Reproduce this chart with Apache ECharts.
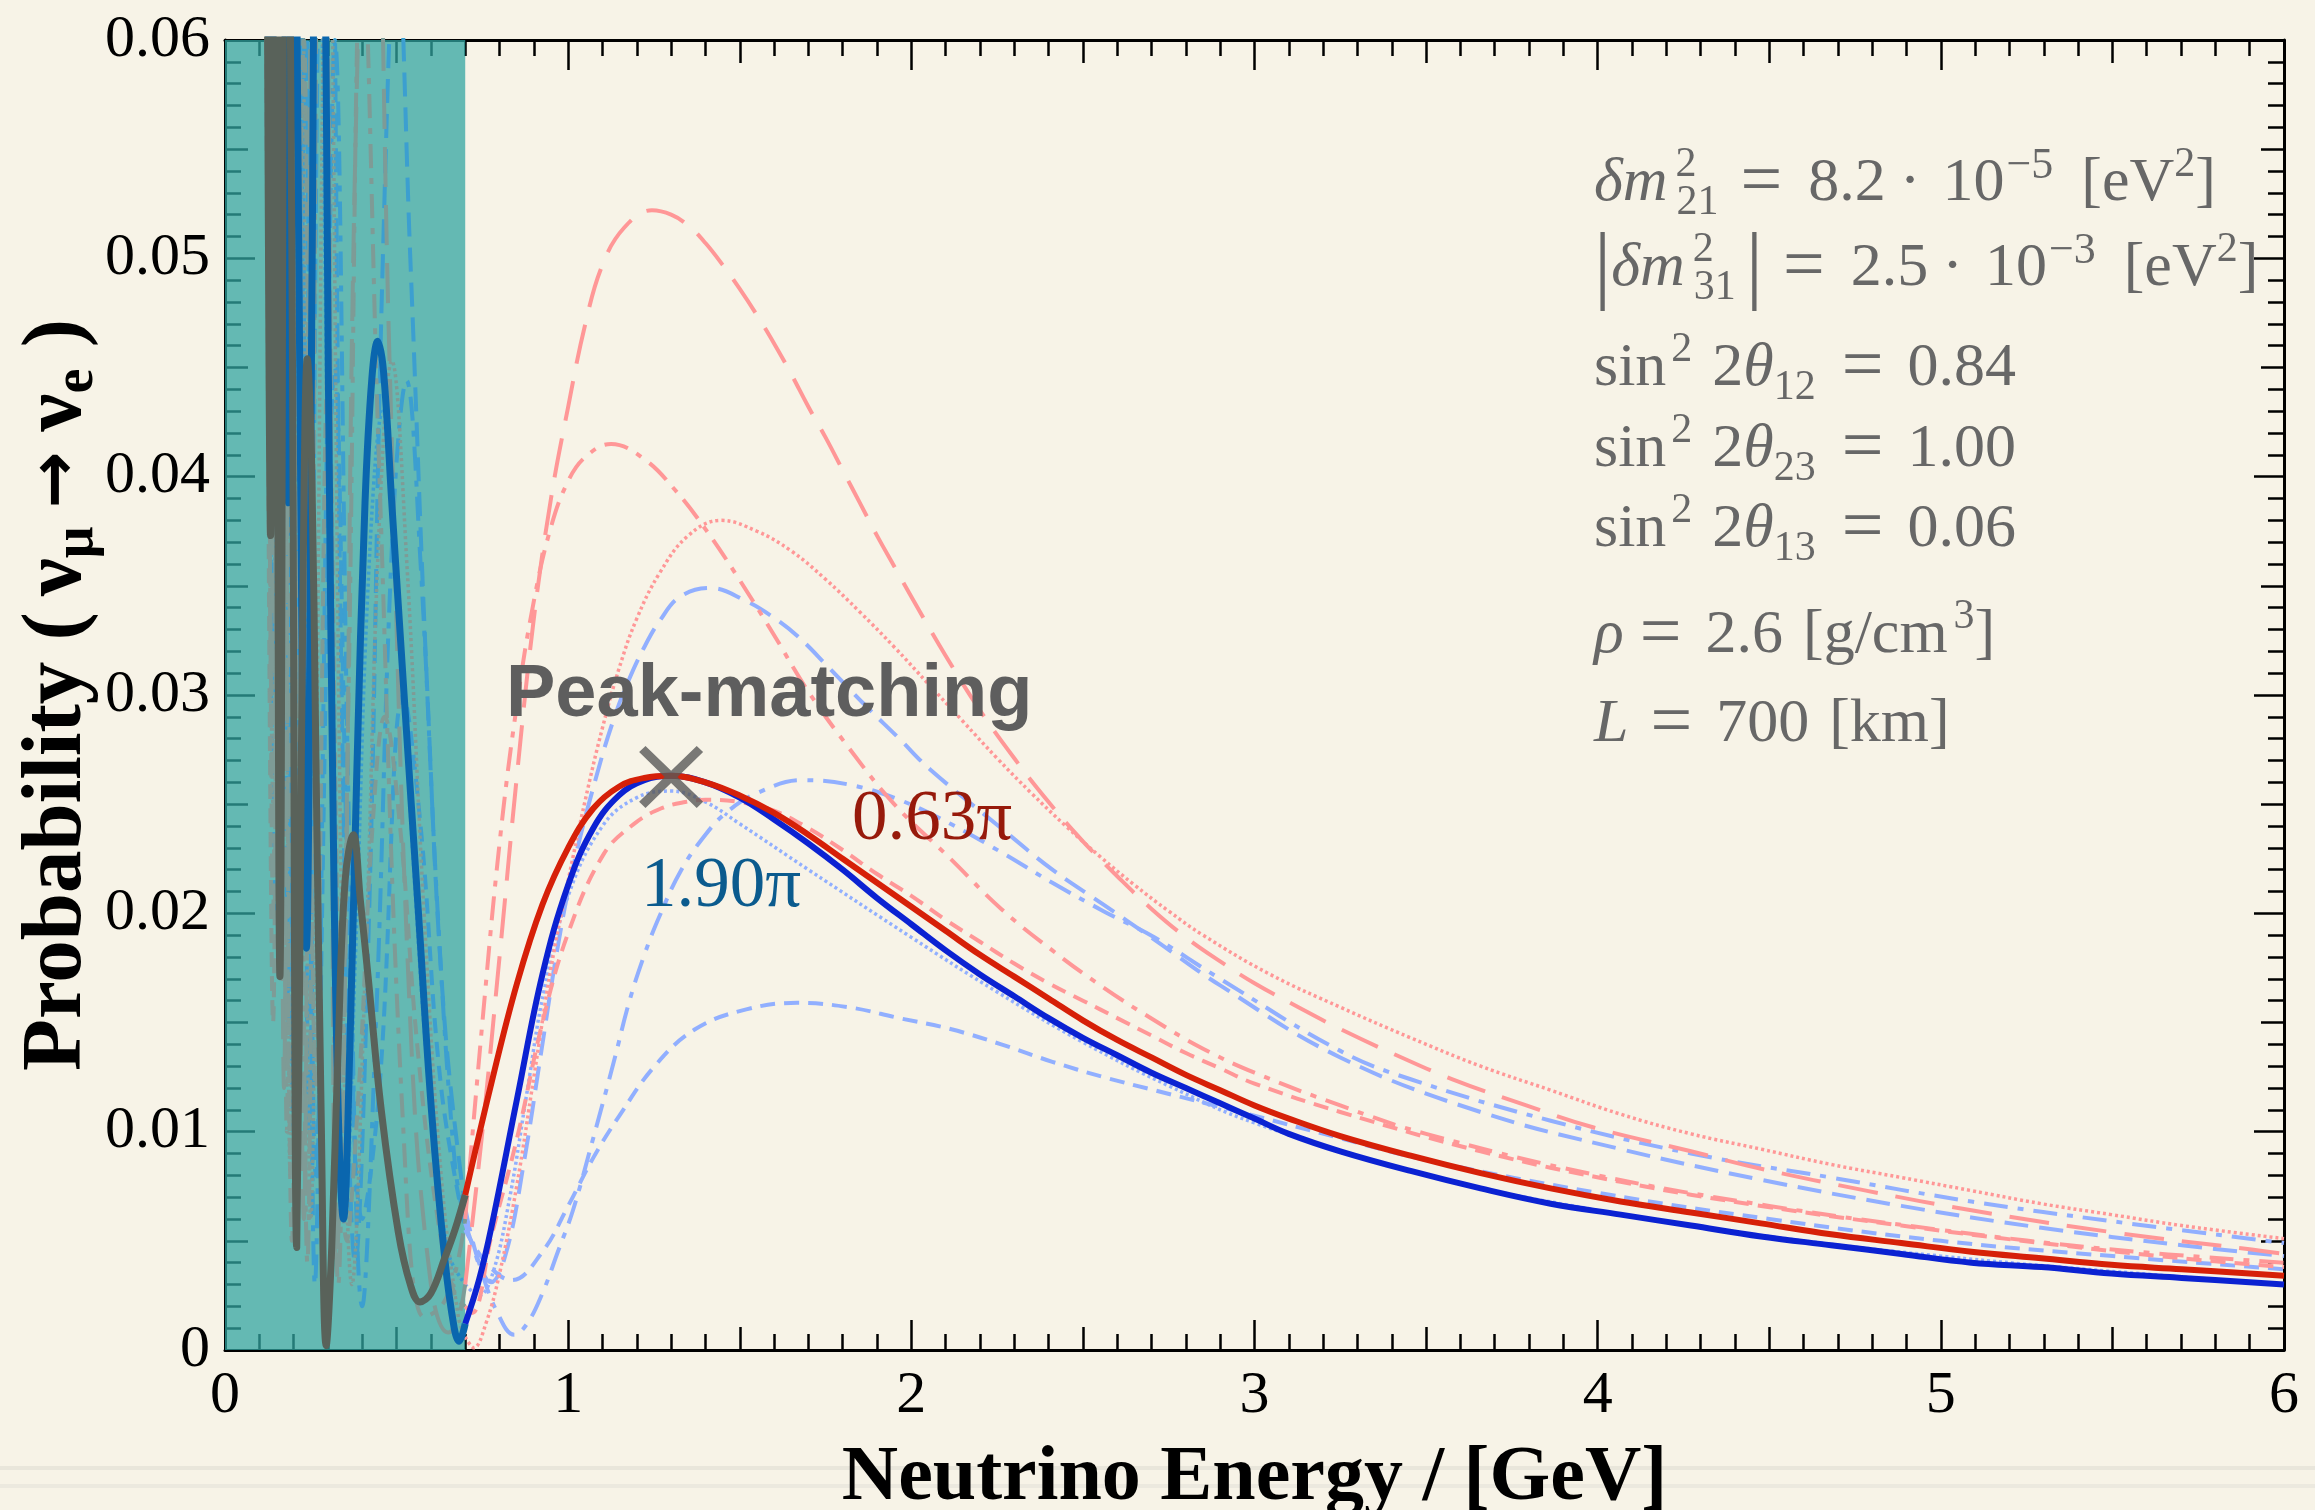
<!DOCTYPE html>
<html><head><meta charset="utf-8">
<script src="https://cdn.jsdelivr.net/npm/echarts@6/dist/echarts.min.js"></script>
<style>html,body{margin:0;padding:0;background:#F7F3E7;}#c{width:2315px;height:1510px;}</style>
</head><body><div id="c"></div>
<script>
// ---------------- data (E in GeV, P = probability) ----------------
const shadedRange = [0, 0.7];
const peakPoint = [[1.30, 0.02625]];
const deltaLabels = ['0.63π', '1.90π'];

const redSolid = [[0.120,0.080],[0.133,0.0373],[0.146,0.080],[0.160,0.0171],[0.178,0.080],[0.195,0.050],[0.209,0.0047],[0.218,0.018],[0.228,0.036],[0.240,0.0454],[0.252,0.041],[0.265,0.027],[0.280,0.011],[0.295,0.0002],[0.311,0.0047],[0.330,0.0140],[0.350,0.0215],[0.374,0.0236],[0.395,0.0205],[0.417,0.0171],[0.456,0.0109],[0.505,0.0054],[0.540,0.0030],[0.568,0.0022],[0.600,0.0026],[0.640,0.0042],[0.670,0.0055],[0.700,0.0071],[0.776,0.0122],[0.851,0.0168],[0.925,0.0204],[1.000,0.0230],[1.073,0.0248],[1.148,0.0258],[1.222,0.0262],[1.300,0.0263],[1.400,0.0260],[1.500,0.0254],[1.600,0.0246],[1.700,0.0236],[1.800,0.0225],[1.900,0.0214],[2.000,0.0203],[2.100,0.0192],[2.200,0.0181],[2.300,0.0171],[2.400,0.0161],[2.500,0.0151],[2.600,0.0142],[2.700,0.0134],[2.800,0.0126],[2.900,0.0119],[3.000,0.0112],[3.100,0.0106],[3.250,0.0098],[3.455,0.0089],[3.659,0.0081],[3.863,0.0074],[4.067,0.0068],[4.272,0.0063],[4.476,0.0058],[4.680,0.0053],[4.885,0.0049],[5.089,0.0045],[5.293,0.0042],[5.497,0.0039],[5.702,0.0037],[6.000,0.0034]];

const blueSolid = [[0.120,0.085],[0.135,0.045],[0.150,0.090],[0.168,0.075],[0.185,0.0388],[0.200,0.080],[0.215,0.050],[0.237,0.0184],[0.254,0.050],[0.270,0.085],[0.288,0.070],[0.301,0.045],[0.316,0.0233],[0.330,0.0109],[0.345,0.0060],[0.364,0.0140],[0.384,0.0264],[0.408,0.0388],[0.428,0.0445],[0.445,0.0462],[0.462,0.0448],[0.486,0.0388],[0.524,0.0295],[0.563,0.0202],[0.602,0.0109],[0.641,0.0041],[0.668,0.0010],[0.682,0.0004],[0.700,0.0012],[0.740,0.0032],[0.776,0.0056],[0.851,0.0115],[0.925,0.0172],[1.000,0.0213],[1.073,0.0239],[1.148,0.0254],[1.222,0.0261],[1.300,0.0263],[1.400,0.0260],[1.500,0.0253],[1.600,0.0243],[1.700,0.0232],[1.800,0.0220],[1.900,0.0207],[2.000,0.0195],[2.100,0.0183],[2.200,0.0172],[2.300,0.0162],[2.400,0.0152],[2.500,0.0143],[2.600,0.0135],[2.700,0.0127],[2.800,0.0120],[2.900,0.0113],[3.000,0.0106],[3.100,0.0099],[3.250,0.0091],[3.455,0.0082],[3.659,0.0074],[3.863,0.0067],[4.067,0.0062],[4.272,0.0057],[4.476,0.0052],[4.680,0.0048],[4.885,0.0044],[5.089,0.0040],[5.293,0.0038],[5.497,0.0035],[5.702,0.0033],[6.000,0.0030]];

const redLongDash = [[0.120,0.090],[0.135,0.030],[0.150,0.090],[0.172,0.012],[0.195,0.090],[0.230,0.006],[0.265,0.085],[0.300,0.060],[0.325,0.004],[0.345,0.012],[0.380,0.055],[0.430,0.075],[0.480,0.045],[0.540,0.015],[0.600,0.003],[0.650,0.0008],[0.675,0.0012],[0.700,0.0030],[0.750,0.0100],[0.800,0.0180],[0.850,0.0262],[0.900,0.0335],[0.950,0.0390],[1.000,0.0432],[1.050,0.0470],[1.100,0.0497],[1.163,0.0514],[1.244,0.0522],[1.300,0.0520],[1.350,0.0515],[1.400,0.0507],[1.450,0.0497],[1.500,0.0486],[1.550,0.0474],[1.600,0.0461],[1.650,0.0447],[1.700,0.0432],[1.750,0.0418],[1.800,0.0403],[1.850,0.0388],[1.900,0.0373],[1.950,0.0359],[2.000,0.0345],[2.100,0.0318],[2.200,0.0293],[2.300,0.0271],[2.400,0.0251],[2.500,0.0233],[2.600,0.0217],[2.700,0.0202],[2.800,0.0189],[2.900,0.0178],[3.000,0.0168],[3.128,0.0157],[3.250,0.0147],[3.414,0.0135],[3.577,0.0124],[3.792,0.0112],[3.986,0.0102],[4.272,0.0091],[4.476,0.0083],[4.782,0.0073],[5.089,0.0064],[5.497,0.0054],[5.906,0.0046],[6.000,0.0044]];

const redDashDot = [[0.120,0.080],[0.140,0.020],[0.160,0.090],[0.180,0.010],[0.205,0.085],[0.240,0.004],[0.280,0.080],[0.310,0.030],[0.330,0.003],[0.360,0.030],[0.400,0.065],[0.450,0.040],[0.520,0.010],[0.580,0.0015],[0.630,0.0020],[0.670,0.0035],[0.700,0.0060],[0.750,0.0150],[0.800,0.0232],[0.850,0.0295],[0.900,0.0343],[0.950,0.0377],[1.000,0.0398],[1.050,0.0409],[1.125,0.0415],[1.222,0.0408],[1.311,0.0394],[1.400,0.0376],[1.490,0.0355],[1.594,0.0329],[1.698,0.0302],[1.817,0.0276],[1.950,0.0250],[2.114,0.0225],[2.262,0.0202],[2.411,0.0183],[2.560,0.0166],[2.708,0.0151],[2.850,0.0138],[3.000,0.0127],[3.250,0.0112],[3.500,0.0099],[4.000,0.0080],[4.500,0.0066],[5.000,0.0055],[5.500,0.0046],[6.000,0.0040]];

const redDotted = [[0.120,0.070],[0.140,0.025],[0.165,0.085],[0.190,0.008],[0.220,0.080],[0.250,0.006],[0.300,0.070],[0.340,0.020],[0.370,0.003],[0.410,0.018],[0.450,0.038],[0.486,0.0453],[0.530,0.036],[0.580,0.020],[0.630,0.008],[0.680,0.0015],[0.700,0.0006],[0.725,0.0001],[0.760,0.0012],[0.800,0.0035],[0.850,0.0075],[0.900,0.0125],[0.950,0.0175],[1.000,0.0215],[1.050,0.0252],[1.100,0.0285],[1.150,0.0313],[1.200,0.0335],[1.267,0.0356],[1.350,0.0373],[1.445,0.0380],[1.550,0.0375],[1.650,0.0366],[1.750,0.0353],[1.850,0.0338],[1.950,0.0322],[2.050,0.0305],[2.150,0.0288],[2.250,0.0271],[2.350,0.0255],[2.450,0.0240],[2.550,0.0226],[2.650,0.0213],[2.750,0.0201],[2.850,0.0190],[3.046,0.0172],[3.250,0.0157],[3.455,0.0143],[3.659,0.0130],[3.863,0.0119],[4.067,0.0108],[4.272,0.0099],[4.476,0.0092],[4.680,0.0085],[4.885,0.0079],[5.089,0.0073],[5.293,0.0067],[5.497,0.0062],[5.702,0.0057],[6.000,0.0051]];

const redShortDash = [[0.120,0.060],[0.140,0.015],[0.165,0.075],[0.195,0.005],[0.230,0.060],[0.265,0.012],[0.300,0.045],[0.330,0.018],[0.355,0.005],[0.390,0.012],[0.430,0.024],[0.465,0.029],[0.510,0.024],[0.560,0.014],[0.620,0.006],[0.670,0.0025],[0.700,0.0020],[0.720,0.0017],[0.776,0.0052],[0.851,0.0097],[0.925,0.0150],[1.000,0.0191],[1.103,0.0227],[1.192,0.0241],[1.270,0.0248],[1.341,0.0251],[1.400,0.0252],[1.500,0.0251],[1.600,0.0247],[1.700,0.0239],[1.800,0.0229],[1.900,0.0218],[2.000,0.0208],[2.100,0.0197],[2.200,0.0187],[2.300,0.0177],[2.400,0.0168],[2.500,0.0160],[2.600,0.0152],[2.700,0.0144],[2.800,0.0136],[2.900,0.0129],[3.000,0.0122],[3.250,0.0109],[3.659,0.0091],[4.067,0.0077],[4.476,0.0066],[4.885,0.0057],[5.293,0.0049],[5.702,0.0042],[6.000,0.0038]];

const blueLongDash = [[0.120,0.085],[0.140,0.040],[0.160,0.090],[0.185,0.015],[0.215,0.090],[0.245,0.010],[0.270,0.060],[0.300,0.080],[0.340,0.030],[0.380,0.004],[0.420,0.020],[0.460,0.050],[0.500,0.065],[0.540,0.050],[0.590,0.030],[0.640,0.015],[0.700,0.0065],[0.740,0.0040],[0.775,0.0031],[0.820,0.0045],[0.870,0.0085],[0.920,0.0135],[0.970,0.0185],[1.020,0.0225],[1.088,0.0266],[1.133,0.0289],[1.177,0.0307],[1.222,0.0322],[1.267,0.0334],[1.326,0.0345],[1.415,0.0349],[1.519,0.0343],[1.594,0.0336],[1.668,0.0327],[1.757,0.0313],[1.861,0.0296],[1.965,0.0280],[2.054,0.0266],[2.262,0.0239],[2.411,0.0220],[2.560,0.0204],[2.708,0.0188],[2.900,0.0167],[3.250,0.0134],[3.659,0.0109],[4.067,0.0092],[4.476,0.0078],[4.885,0.0066],[5.293,0.0056],[5.702,0.0048],[6.000,0.0043]];

const blueDashDot = [[0.120,0.075],[0.145,0.030],[0.170,0.085],[0.200,0.012],[0.230,0.080],[0.262,0.003],[0.300,0.045],[0.320,0.060],[0.360,0.025],[0.400,0.002],[0.440,0.015],[0.490,0.038],[0.529,0.0444],[0.570,0.036],[0.620,0.020],[0.670,0.0085],[0.700,0.0058],[0.747,0.0036],[0.791,0.0018],[0.843,0.0007],[0.880,0.0012],[0.925,0.0026],[0.970,0.0045],[1.014,0.0064],[1.073,0.0097],[1.133,0.0132],[1.177,0.0159],[1.222,0.0181],[1.267,0.0199],[1.330,0.0220],[1.400,0.0236],[1.460,0.0246],[1.549,0.0255],[1.683,0.0261],[1.817,0.0259],[1.965,0.0252],[2.114,0.0241],[2.262,0.0228],[2.411,0.0214],[2.560,0.0201],[2.708,0.0189],[2.900,0.0170],[3.250,0.0137],[3.455,0.0124],[3.863,0.0105],[4.272,0.0090],[4.680,0.0079],[5.089,0.0068],[5.497,0.0059],[6.000,0.0049]];

const blueShortDash = [[0.120,0.060],[0.145,0.020],[0.170,0.070],[0.200,0.010],[0.235,0.060],[0.265,0.008],[0.320,0.045],[0.360,0.020],[0.400,0.006],[0.450,0.012],[0.520,0.030],[0.570,0.024],[0.630,0.012],[0.700,0.0055],[0.761,0.0040],[0.836,0.0032],[0.925,0.0045],[1.000,0.0066],[1.073,0.0088],[1.148,0.0107],[1.252,0.0130],[1.371,0.0147],[1.519,0.0156],[1.668,0.0159],[1.817,0.0157],[1.965,0.0152],[2.114,0.0147],[2.262,0.0140],[2.411,0.0132],[2.560,0.0125],[2.708,0.0119],[2.958,0.0109],[3.250,0.0097],[3.500,0.0087],[4.000,0.0072],[4.500,0.0060],[5.000,0.0050],[5.500,0.0043],[6.000,0.0037]];

const blueDotted = [[0.120,0.070],[0.140,0.030],[0.160,0.080],[0.190,0.020],[0.215,0.075],[0.240,0.025],[0.270,0.070],[0.300,0.040],[0.330,0.012],[0.350,0.007],[0.380,0.018],[0.420,0.036],[0.460,0.043],[0.500,0.036],[0.550,0.022],[0.600,0.011],[0.650,0.0045],[0.700,0.0030],[0.740,0.0025],[0.780,0.0035],[0.830,0.0070],[0.880,0.0118],[0.930,0.0165],[1.000,0.0208],[1.100,0.0240],[1.200,0.0253],[1.300,0.0256],[1.400,0.0251],[1.500,0.0241],[1.700,0.0220],[2.000,0.0189],[2.250,0.0164],[2.500,0.0141],[2.750,0.0121],[3.000,0.0104],[3.500,0.0080],[4.000,0.0064],[4.500,0.0052],[5.000,0.0043],[5.500,0.0036],[6.000,0.0030]];

// ---------------- styling ----------------
const SERIF = '"Liberation Serif","DejaVu Serif",serif';
const SANS = '"Liberation Sans",Arial,sans-serif';
const C = {red:'#D62008', blue:'#0B22D2', lred:'#FF9797', lblue:'#91AFFF',
           redS:'#59625A', blueS:'#0A66AE', lredS:'#7E9B96', lblueS:'#3C9FD0'};
const DASH = {long:[40,18], dashdot:[24,10,6,10], dot:[3,3], short:[15,9], bdash:[24,11]};

const curves = [
  {d: blueShortDash, c: C.lblue, s: C.lblueS, w: 4, ws: 4, t: DASH.short},
  {d: blueDashDot,   c: C.lblue, s: C.lblueS, w: 4, ws: 4, t: DASH.dashdot},
  {d: blueLongDash,  c: C.lblue, s: C.lblueS, w: 4, ws: 4, t: DASH.bdash},
  {d: blueDotted,    c: C.lblue, s: C.lblueS, w: 3.5, ws: 3.5, t: DASH.dot},
  {d: redShortDash,  c: C.lred,  s: C.lredS,  w: 4, ws: 4, t: DASH.short},
  {d: redDotted,     c: C.lred,  s: C.lredS,  w: 3.5, ws: 3.5, t: DASH.dot},
  {d: redDashDot,    c: C.lred,  s: C.lredS,  w: 4, ws: 4, t: DASH.dashdot},
  {d: redLongDash,   c: C.lred,  s: C.lredS,  w: 4, ws: 4, t: DASH.long},
  {d: blueSolid,     c: C.blue,  s: C.blueS,  w: 6, ws: 7, t: 'solid'},
  {d: redSolid,      c: C.red,   s: C.redS,   w: 6, ws: 7, t: 'solid'}
];

function lineSeries(data, color, w, t, z) {
  return {
    type: 'line', data: data, xAxisIndex: 0, yAxisIndex: 0,
    showSymbol: false, symbol: 'none', smooth: 0.4, clip: true,
    z: z, lineStyle: {width: w, type: t, color: color, cap: 'butt', join: 'round'},
    silent: true, animation: false
  };
}
const series = [];
// shaded region (teal band)
series.push({
  type: 'line', data: [], xAxisIndex: 0, yAxisIndex: 0, silent: true,
  markArea: {silent: true, itemStyle: {color: 'rgba(48,164,160,0.74)'},
    data: [[{xAxis: shadedRange[0]}, {xAxis: shadedRange[1]}]]}
});
curves.forEach((cv, i) => {
  const z = i >= 8 ? 4 : 3;
  series.push(lineSeries(cv.d.filter(p => p[0] <= shadedRange[1]), cv.s, cv.ws, cv.t, z));
  series.push(lineSeries(cv.d.filter(p => p[0] >= shadedRange[1]), cv.c, cv.w, cv.t, z));
});
// peak marker
series.push({
  type: 'scatter', data: peakPoint, xAxisIndex: 0, yAxisIndex: 0, z: 10, silent: true,
  symbol: 'path://M0,1 L1,0 L5,4 L9,0 L10,1 L6,5 L10,9 L9,10 L5,6 L1,10 L0,9 L4,5 Z',
  symbolSize: [64, 62], itemStyle: {color: '#595959'}
});

const tickCol = '#000';
function xAx(pos, main) {
  return {
    type: 'value', position: pos, min: 0, max: 6, interval: main ? 1 : 0.5,
    axisLine: {show: main, onZero: false, lineStyle: {color: '#000', width: 3}},
    axisTick: {show: true, inside: true, length: main ? 30 : 23, lineStyle: {color: tickCol, width: 2.5}},
    minorTick: {show: main, splitNumber: 10, length: 16, lineStyle: {color: tickCol, width: 2.5}},
    axisLabel: {show: main && pos === 'bottom', margin: 16, color: '#000', fontSize: 60, fontFamily: SERIF,
      formatter: v => String(Math.round(v))},
    splitLine: {show: false}, minorSplitLine: {show: false},
    name: (main && pos === 'bottom') ? 'Neutrino Energy / [GeV]' : '',
    nameLocation: 'middle', nameGap: 90, nameMoveOverlap: false,
    nameTextStyle: {fontFamily: SERIF, fontWeight: 'bold', fontSize: 78, color: '#000'}
  };
}
function yAx(pos, main) {
  const isLeft = pos === 'left';
  return {
    type: 'value', position: pos, min: 0, max: 0.06, interval: main ? 0.01 : 0.005,
    axisLine: {show: main, onZero: false, lineStyle: {color: '#000', width: 3}},
    axisTick: {show: true, inside: true, length: main ? 30 : 23, lineStyle: {color: tickCol, width: 2.5}},
    minorTick: {show: main, splitNumber: 10, length: 16, lineStyle: {color: tickCol, width: 2.5}},
    axisLabel: {show: main && isLeft, margin: 15, color: '#000', fontSize: 60, fontFamily: SERIF,
      formatter: v => (Math.abs(v) < 1e-9 ? '0' : v.toFixed(2))},
    splitLine: {show: false}, minorSplitLine: {show: false},
    name: (main && isLeft) ? '{b|Probability (}{n|ν}{s|μ}{a|→}{n|ν}{s|e}{b| )}' : '',
    nameLocation: 'middle', nameRotate: 90, nameGap: 119, nameMoveOverlap: false,
    nameTextStyle: {
      rich: {
        b: {fontFamily: SERIF, fontWeight: 'bold', fontSize: 85, color: '#000', lineHeight: 96, verticalAlign: 'middle'},
        n: {fontFamily: SERIF, fontWeight: 'bold', fontSize: 85, color: '#000', lineHeight: 96, verticalAlign: 'middle', padding: [0, 0, 0, 16]},
        s: {fontFamily: SERIF, fontWeight: 'bold', fontSize: 56, color: '#000', lineHeight: 56, verticalAlign: 'bottom'},
        a: {fontFamily: '"DejaVu Sans",sans-serif', fontWeight: 'bold', fontSize: 68, color: '#000', lineHeight: 96,
            verticalAlign: 'middle', padding: [0, 4, 0, 18]}
      }
    }
  };
}

// parameter block
const TXT = '#676767';
const base = {fontFamily: SERIF, fill: TXT};
const richP = {
  r:   Object.assign({fontSize: 62, lineHeight: 80, verticalAlign: 'middle'}, base),
  i:   Object.assign({fontSize: 62, fontStyle: 'italic', lineHeight: 80, verticalAlign: 'middle'}, base),
  dm:  Object.assign({fontSize: 62, fontStyle: 'italic', lineHeight: 80, verticalAlign: 'middle', padding: [0, 4, 0, 0]}, base),
  sp:  Object.assign({fontSize: 42, lineHeight: 42, verticalAlign: 'top'}, base),
  ex:  Object.assign({fontSize: 44, lineHeight: 42, verticalAlign: 'top', padding: [0, 8, 0, 2]}, base),
  spa: Object.assign({fontSize: 42, lineHeight: 42, verticalAlign: 'top', padding: [0, 20, 0, 5]}, base),
  sp0: Object.assign({fontSize: 42, lineHeight: 42, verticalAlign: 'top', width: 1, padding: [0, 0, 0, 4]}, base),
  sb:  Object.assign({fontSize: 42, lineHeight: 42, verticalAlign: 'bottom'}, base),
  e1:  Object.assign({fontSize: 74, lineHeight: 80, verticalAlign: 'middle', padding: [0, 26, 0, 22]}, base),
  e2:  Object.assign({fontSize: 74, lineHeight: 80, verticalAlign: 'middle', padding: [0, 26, 0, 20]}, base),
  e3:  Object.assign({fontSize: 74, lineHeight: 80, verticalAlign: 'middle', padding: [0, 24, 0, 26]}, base),
  e6:  Object.assign({fontSize: 74, lineHeight: 80, verticalAlign: 'middle', padding: [0, 24, 0, 16]}, base),
  e7:  Object.assign({fontSize: 74, lineHeight: 80, verticalAlign: 'middle', padding: [0, 24, 0, 22]}, base),
  dot: Object.assign({fontSize: 62, lineHeight: 80, verticalAlign: 'middle', padding: [0, 22, 0, 14]}, base),
  br:  Object.assign({fontSize: 62, lineHeight: 80, verticalAlign: 'middle', padding: [0, 0, 0, 20]}, base),
  br6: Object.assign({fontSize: 62, lineHeight: 80, verticalAlign: 'middle', padding: [0, 6, 0, 20]}, base),
  bar: Object.assign({fontSize: 86, lineHeight: 80, verticalAlign: 'middle'}, base),
  bar2:Object.assign({fontSize: 86, lineHeight: 80, verticalAlign: 'middle', padding: [0, 0, 0, 10]}, base)
};
const paramLines = [
  ['{dm|δm}{sp0|2}{sb|21}{e1|=}{r|8.2}{dot|·}{r|10}{ex|−5}{br|[eV}{sp|2}{r|]}', 144],
  ['{bar||}{dm|δm}{sp0|2}{sb|31}{bar2||}{e2|=}{r|2.5}{dot|·}{r|10}{ex|−3}{br|[eV}{sp|2}{r|]}', 226],
  ['{r|sin}{spa|2}{r|2}{i|θ}{sb|12}{e3|=}{r|0.84}', 329],
  ['{r|sin}{spa|2}{r|2}{i|θ}{sb|23}{e3|=}{r|1.00}', 410],
  ['{r|sin}{spa|2}{r|2}{i|θ}{sb|13}{e3|=}{r|0.06}', 490],
  ['{i|ρ}{e6|=}{r|2.6}{br6|[g/cm}{sp|3}{r|]}', 596],
  ['{i|L}{e7|=}{r|700}{br|[km]}', 688]
];
const graphics = paramLines.map(([t, top]) => ({
  type: 'text', left: 1594, top: top, silent: true, z: 20,
  style: {text: t, rich: richP, fill: TXT, font: '62px ' + SERIF}
}));
graphics.push({type: 'text', left: 506, top: 659, z: 20, silent: true,
  style: {text: 'Peak-matching', fill: '#5E5E5E', font: 'bold 74px ' + SANS}});
graphics.push({type: 'text', left: 852, top: 785, z: 20, silent: true,
  style: {text: deltaLabels[0], fill: '#971A0B', font: '71px ' + SERIF}});
graphics.push({type: 'text', left: 641, top: 852, z: 20, silent: true,
  style: {text: deltaLabels[1], fill: '#0B5B8E', font: '71px ' + SERIF}});
graphics.push({type: 'rect', left: 0, top: 1466, z: 0, silent: true,
  shape: {width: 2315, height: 4}, style: {fill: '#E9E6DB'}});
graphics.push({type: 'rect', left: 0, top: 1484, z: 0, silent: true,
  shape: {width: 2315, height: 4}, style: {fill: '#ECE9DF'}});

const chart = echarts.init(document.getElementById('c'), null, {renderer: 'canvas'});
chart.setOption({
  backgroundColor: '#F7F3E7',
  animation: false,
  grid: {left: 225, right: 31, top: 40, bottom: 160, containLabel: false, outerBoundsMode: 'none'},
  xAxis: [xAx('bottom', true), xAx('top', true), xAx('bottom', false), xAx('top', false)],
  yAxis: [yAx('left', true), yAx('right', true), yAx('left', false), yAx('right', false)],
  series: series,
  graphic: graphics
});
</script></body></html>
